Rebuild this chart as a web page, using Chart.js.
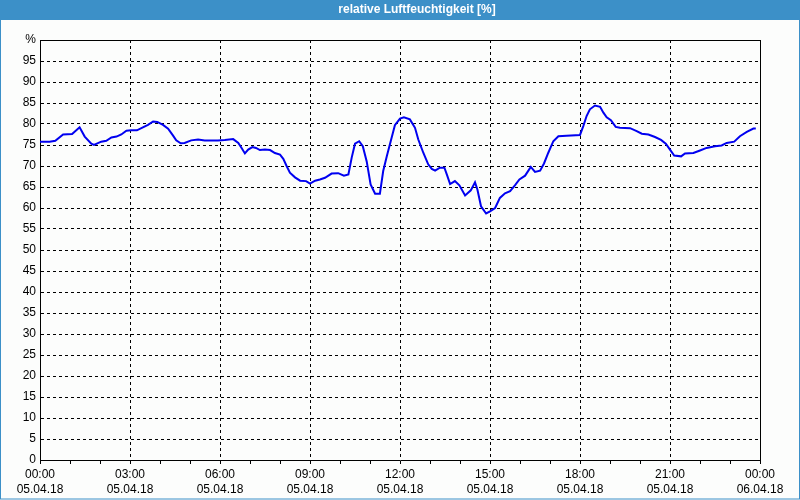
<!DOCTYPE html>
<html>
<head>
<meta charset="utf-8">
<script src="https://cdn.jsdelivr.net/npm/chart.js@4.4.1/dist/chart.umd.min.js"></script>
<style>
    html, body { margin: 0; padding: 0; background: #fcfdfc; }
    #wrap { width: 800px; height: 500px; position: relative; }
</style>
</head>
<body>
<div id="wrap"><canvas id="humChart"></canvas></div>
<script>
// Zeit in Stunden ab 05.04.18 00:00
const hours = [0, 0.32, 0.51, 0.77, 1.07, 1.32, 1.49, 1.71, 1.8, 2.04, 2.21, 2.38, 2.55, 2.71, 2.88,
    3.04, 3.23, 3.43, 3.6, 3.77, 3.91, 4.1, 4.27, 4.43, 4.54, 4.69, 4.82, 5.04, 5.27, 5.49, 5.93,
    6.16, 6.44, 6.61, 6.72, 6.83, 6.94, 7.08, 7.2, 7.33, 7.5, 7.67, 7.83, 8.0, 8.11, 8.22, 8.33,
    8.5, 8.67, 8.87, 9.0, 9.17, 9.33, 9.5, 9.72, 9.94, 10.13, 10.28, 10.39, 10.5, 10.64, 10.76,
    10.89, 11.02, 11.17, 11.33, 11.44, 11.56, 11.69, 11.83, 12.0, 12.13, 12.33, 12.5, 12.61, 12.78,
    12.94, 13.06, 13.17, 13.33, 13.48, 13.56, 13.67, 13.83, 13.98, 14.17, 14.36, 14.5, 14.58, 14.7,
    14.87, 15.0, 15.17, 15.33, 15.5, 15.67, 15.83, 15.98, 16.17, 16.36, 16.5, 16.67, 16.8, 16.94,
    17.11, 17.28, 17.55, 18.0, 18.11, 18.22, 18.33, 18.5, 18.67, 18.78, 18.89, 19.03, 19.19, 19.33,
    19.67, 19.89, 20.06, 20.28, 20.5, 20.7, 20.86, 21.0, 21.14, 21.37, 21.5, 21.78, 22.0, 22.22,
    22.5, 22.72, 22.89, 23.14, 23.33, 23.56, 23.78, 23.86];

const humidity = [75.8, 75.8, 76.0, 77.5, 77.6, 79.2, 77.0, 75.3, 75.0, 75.8, 76.0, 76.8, 77.0, 77.5, 78.4,
    78.5, 78.5, 79.2, 79.8, 80.6, 80.5, 79.8, 78.9, 77.3, 76.1, 75.4, 75.5, 76.1, 76.3, 76.1, 76.1,
    76.2, 76.4, 75.5, 74.3, 73.0, 73.9, 74.5, 74.3, 73.8, 73.9, 73.8, 73.1, 72.7, 71.7, 70.0, 68.4,
    67.3, 66.5, 66.4, 65.8, 66.5, 66.8, 67.2, 68.2, 68.3, 67.7, 68.0, 72.0, 75.3, 75.9, 74.7,
    71.1, 65.6, 63.4, 63.4, 68.8, 72.3, 75.9, 79.7, 81.3, 81.6, 81.1, 79.1, 76.3, 73.1,
    70.4, 69.3, 68.9, 69.6, 69.6, 68.0, 65.7, 66.4, 65.4, 63.0, 64.2, 66.1, 64.4, 60.4,
    58.7, 59.2, 60.0, 62.4, 63.5, 64.0, 65.4, 66.8, 67.7, 69.8, 68.6, 68.9, 70.6, 73.1,
    75.9, 77.1, 77.2, 77.4, 79.5, 81.9, 83.5, 84.4, 84.1, 82.7, 81.6, 80.9, 79.3, 79.1,
    79.0, 78.3, 77.7, 77.5, 76.9, 76.2, 75.3, 73.9, 72.5, 72.3, 73.0, 73.1, 73.7, 74.3,
    74.7, 74.9, 75.5, 75.8, 77.1, 78.1, 78.9, 78.9];

const tickTimes = ['00:00', '03:00', '06:00', '09:00', '12:00', '15:00', '18:00', '21:00', '00:00'];
const tickDates = ['05.04.18', '05.04.18', '05.04.18', '05.04.18', '05.04.18', '05.04.18', '05.04.18', '05.04.18', '06.04.18'];

const chartTitle = 'relative Luftfeuchtigkeit [%]';

const points = hours.map(function (h, i) {
    return { x: h, y: humidity[i] };
});

// Fensterrahmen + Titelleiste
const framePlugin = {
    id: 'frame',
    beforeDraw: function (chart) {
        const c = chart.ctx;
        c.save();
        c.fillStyle = '#fcfdfc';
        c.fillRect(0, 0, chart.width, chart.height);
        c.fillStyle = '#3c90c8';
        c.fillRect(0, 0, chart.width, 20);
        c.strokeStyle = '#3c90c8';
        c.lineWidth = 1;
        c.strokeRect(0.5, 0.5, chart.width - 1, chart.height - 1.5);
        c.fillStyle = '#ffffff';
        c.font = 'bold 12px "Liberation Sans", Arial, sans-serif';
        c.textAlign = 'center';
        c.textBaseline = 'middle';
        c.fillText(chartTitle, 417, 10);
        c.restore();
    }
};

const ctx = document.getElementById('humChart').getContext('2d');

const humChart = new Chart(ctx, {
    type: 'line',
    data: {
        datasets: [{
            data: points,
            borderColor: '#0000f0',
            borderWidth: 2,
            pointRadius: 0,
            tension: 0,
            fill: false
        }]
    },
    options: {
        responsive: true,
        maintainAspectRatio: false,
        animation: false,
        layout: {
            padding: { top: 40, right: 40, left: 0, bottom: 0 }
        },
        scales: {
            x: {
                type: 'linear',
                min: 0,
                max: 24,
                afterFit: function (scale) { scale.height = 40; },
                border: {
                    color: '#000',
                    width: 1,
                    dash: function (context) {
                        return context.tick && context.tick.value === 24 ? [] : [3, 3];
                    }
                },
                grid: {
                    color: function (context) {
                        if (!context.tick) return '#000';
                        return context.tick.value % 3 === 0 ? '#000' : 'rgba(0,0,0,0)';
                    },
                    tickColor: '#000',
                    tickLength: 4,
                    lineWidth: 1
                },
                ticks: {
                    stepSize: 1,
                    autoSkip: false,
                    maxRotation: 0,
                    padding: 3,
                    color: '#000',
                    font: { family: '"Liberation Sans", Arial, sans-serif', size: 12, lineHeight: 15 / 12 },
                    callback: function (value) {
                        if (value % 3 !== 0) return '';
                        const i = value / 3;
                        return [tickTimes[i], tickDates[i]];
                    }
                }
            },
            y: {
                min: 0,
                max: 100,
                afterFit: function (scale) { scale.width = 40; },
                border: {
                    color: '#000',
                    width: 1,
                    dash: function (context) {
                        return context.tick && context.tick.value === 100 ? [] : [3, 3];
                    }
                },
                grid: {
                    color: '#000',
                    drawTicks: false,
                    lineWidth: 1
                },
                ticks: {
                    stepSize: 5,
                    padding: 4,
                    color: '#000',
                    font: { family: '"Liberation Sans", Arial, sans-serif', size: 12 },
                    callback: function (value) {
                        return value === 100 ? '%' : value;
                    }
                }
            }
        },
        plugins: {
            legend: { display: false },
            tooltip: { enabled: false }
        }
    },
    plugins: [framePlugin]
});
</script>
</body>
</html>
